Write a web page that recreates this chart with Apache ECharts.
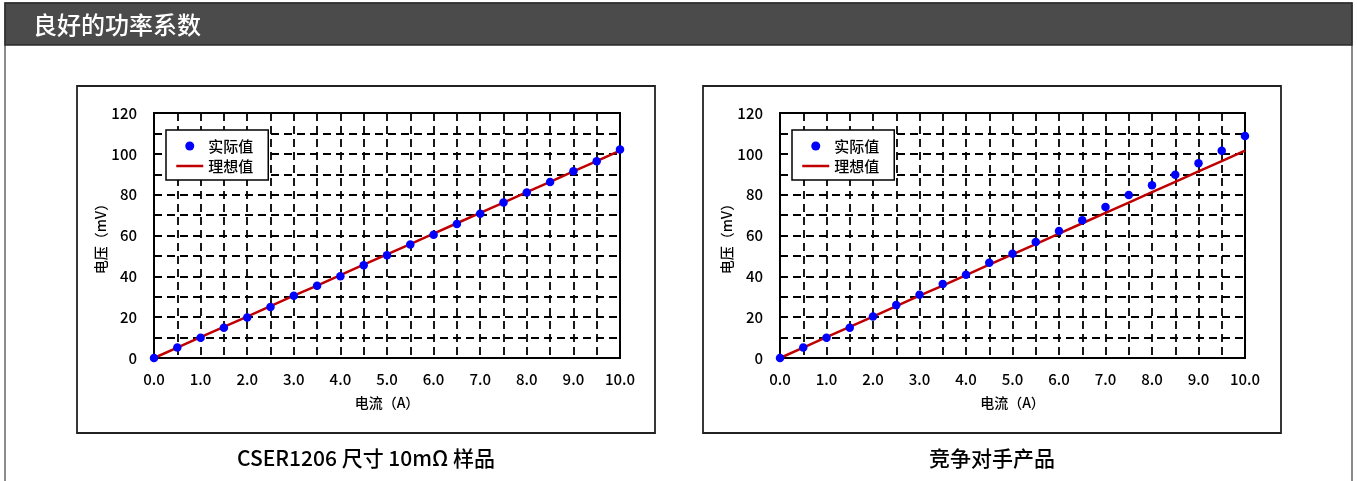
<!DOCTYPE html>
<html>
<head>
<meta charset="utf-8">
<script src="https://cdn.jsdelivr.net/npm/echarts@6/dist/echarts.min.js"></script>
<style>
html,body{margin:0;padding:0;background:#fff;}
#c{width:1357px;height:481px;}
</style>
</head>
<body>
<div id="c"></div>
<script>
// ---- data ----
const xValues = [0, 0.5, 1, 1.5, 2, 2.5, 3, 3.5, 4, 4.5, 5, 5.5, 6, 6.5, 7, 7.5, 8, 8.5, 9, 9.5, 10];
const cserActual = [0, 5.2, 9.9, 14.8, 19.8, 25.0, 30.5, 35.4, 40.0, 45.4, 50.3, 55.6, 60.4, 65.6, 70.6, 76.2, 81.1, 86.2, 91.5, 96.4, 102.1];
const rivalActual = [0, 5.2, 9.9, 14.8, 20.3, 25.9, 31.0, 36.2, 40.8, 46.6, 51.1, 56.8, 62.2, 67.5, 74.0, 79.8, 84.6, 89.8, 95.4, 101.5, 108.7];
const idealValues = [0, 5.1, 10.2, 15.2, 20.3, 25.4, 30.5, 35.5, 40.6, 45.7, 50.8, 55.8, 60.9, 66.0, 71.1, 76.1, 81.2, 86.3, 91.4, 96.4, 101.6];
const xTickLabels = ['0.0', '1.0', '2.0', '3.0', '4.0', '5.0', '6.0', '7.0', '8.0', '9.0', '10.0'];
const yTickLabels = ['0', '20', '40', '60', '80', '100', '120'];
const seriesNames = ['实际值', '理想值'];
const headerTitle = '良好的功率系数';
const chartTitles = ['CSER1206 尺寸 10mΩ 样品', '竞争对手产品'];
const xAxisName = '电流（A）';
const yAxisName = '电压（mV）';

// ---- layout / style ----
const FONT = 'Noto Sans CJK SC';
const FW = 500;
const grids = [
  { left: 154, top: 113, width: 466, height: 245 },
  { left: 780, top: 113, width: 465, height: 245 }
];
const boxes = [
  { x: 77, y: 86, width: 578, height: 347 },
  { x: 703, y: 86, width: 578, height: 347 }
];
const dash = { color: '#000', width: 1.8, type: [8, 5] };

const chart = echarts.init(document.getElementById('c'), null, { renderer: 'canvas' });

const xAxes = [], yAxes = [], series = [], legends = [];
[cserActual, rivalActual].forEach((actual, i) => {
  xAxes.push({
    gridIndex: i, type: 'value', min: 0, max: 10, interval: 1,
    name: xAxisName, nameLocation: 'middle', nameGap: 38,
    nameTextStyle: { fontFamily: FONT, fontSize: 14, fontWeight: FW, color: '#000' },
    axisLine: { show: true, lineStyle: { color: '#000', width: 2 } },
    axisTick: { show: false },
    axisLabel: { margin: 14, fontFamily: FONT, fontSize: 15, fontWeight: FW, color: '#000',
      formatter: v => xTickLabels[Math.round(v)] },
    splitLine: { show: true, lineStyle: dash },
    minorTick: { show: false, splitNumber: 2 },
    minorSplitLine: { show: true, lineStyle: dash }
  });
  yAxes.push({
    gridIndex: i, type: 'value', min: 0, max: 120, interval: 20,
    name: yAxisName, nameLocation: 'middle', nameGap: 44, nameRotate: 90,
    nameTextStyle: { fontFamily: FONT, fontSize: 14, fontWeight: FW, color: '#000' },
    axisLine: { show: true, lineStyle: { color: '#000', width: 2 } },
    axisTick: { show: false },
    axisLabel: { margin: 17, fontFamily: FONT, fontSize: 15, fontWeight: FW, color: '#000',
      formatter: v => yTickLabels[Math.round(v / 20)] },
    splitLine: { show: true, lineStyle: dash },
    minorTick: { show: false, splitNumber: 2 },
    minorSplitLine: { show: true, lineStyle: dash }
  });
  series.push({
    name: seriesNames[1], type: 'line', xAxisIndex: i, yAxisIndex: i,
    data: xValues.map((x, k) => [x, idealValues[k]]),
    symbol: 'none', showSymbol: false,
    lineStyle: { color: '#c00000', width: 2.5 }, itemStyle: { color: '#c00000' },
    z: 3, silent: true, animation: false
  });
  series.push({
    name: seriesNames[0], type: 'scatter', xAxisIndex: i, yAxisIndex: i,
    data: xValues.map((x, k) => [x, actual[k]]),
    symbol: 'circle', symbolSize: 8.5, itemStyle: { color: '#0000ff', opacity: 1 },
    z: 4, silent: true, animation: false
  });
  legends.push({
    data: [
      { name: seriesNames[0], icon: 'circle', itemStyle: { color: '#0000ff', opacity: 1 } },
      { name: seriesNames[1], itemStyle: { color: 'rgba(0,0,0,0)', borderWidth: 0, opacity: 0 },
        lineStyle: { color: '#c00000', width: 2.5 } }
    ],
    orient: 'vertical',
    left: grids[i].left + 12, top: grids[i].top + 17,
    backgroundColor: '#fff', borderColor: '#000', borderWidth: 1.5, borderRadius: 0,
    padding: [8, 15, 6, 9], itemGap: 4, itemWidth: 27, itemHeight: 9,
    textStyle: { fontFamily: FONT, fontSize: 15, fontWeight: FW, color: '#000', lineHeight: 16 },
    selectedMode: false
  });
});

const graphics = [
  { type: 'rect', shape: { x: 5, y: 3, width: 1347, height: 560 },
    style: { fill: '#fff', stroke: '#666', lineWidth: 1.5 }, z: -10, silent: true },
  { type: 'rect', shape: { x: 5, y: 3, width: 1347, height: 42 },
    style: { fill: '#4b4b4b', stroke: '#2b2b2b', lineWidth: 1.5 }, z: -9, silent: true },
  { type: 'text', x: 33, y: 25, style: { text: headerTitle, fill: '#fff', font: FW + ' 24px "' + FONT + '"',
    textVerticalAlign: 'middle' }, z: -8, silent: true }
];
boxes.forEach((b, i) => {
  graphics.push({ type: 'rect', shape: b, style: { fill: 'none', stroke: '#222', lineWidth: 1.8 }, z: -8, silent: true });
  graphics.push({ type: 'text', x: b.x + b.width / 2, y: 458,
    style: { text: chartTitles[i], fill: '#000', font: FW + ' 21px "' + FONT + '"',
      textAlign: 'center', textVerticalAlign: 'middle' }, silent: true });
});

chart.setOption({
  animation: false,
  backgroundColor: '#fff',
  textStyle: { fontFamily: FONT },
  grid: grids.map(g => Object.assign({ show: true, borderColor: '#000', borderWidth: 2, backgroundColor: 'transparent' }, g)),
  xAxis: xAxes,
  yAxis: yAxes,
  legend: legends,
  series: series,
  graphic: graphics
});
</script>
</body>
</html>
